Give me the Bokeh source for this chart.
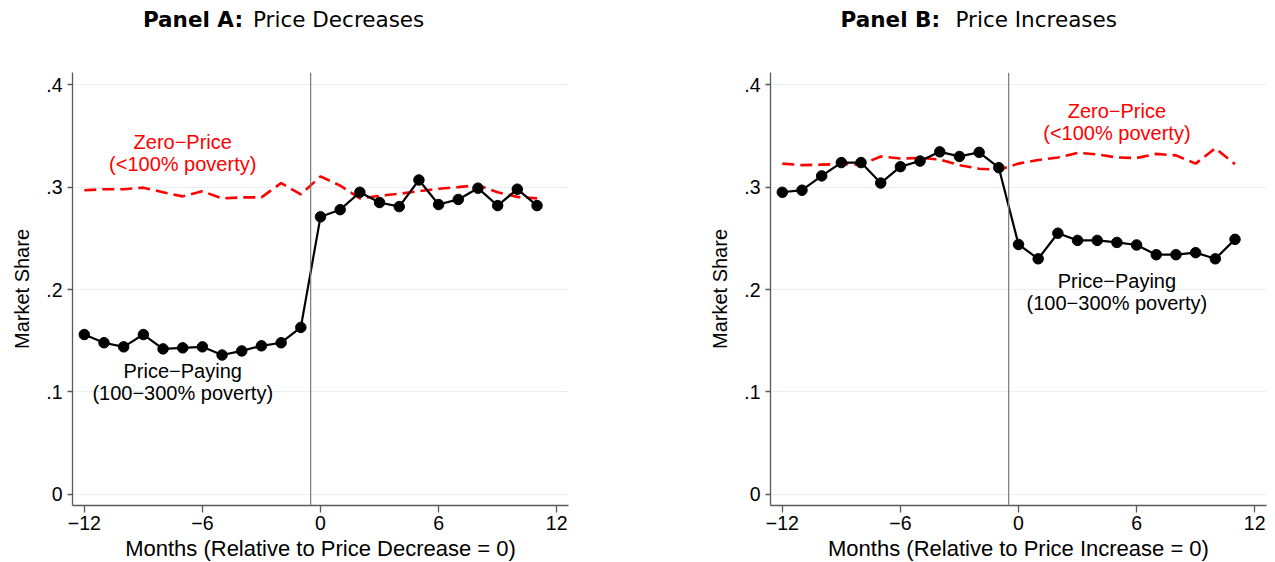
from bokeh.plotting import figure
from bokeh.layouts import row, column
from bokeh.models import Span, Label, FixedTicker, ColumnDataSource
from bokeh.core.properties import value
from bokeh.embed import file_html
from bokeh.resources import INLINE

# ---------------- data ----------------
months = list(range(-12, 12))

a_price_paying = [0.156, 0.148, 0.144, 0.156, 0.142, 0.143, 0.144, 0.136, 0.140, 0.145, 0.148, 0.163,
                  0.271, 0.278, 0.295, 0.285, 0.281, 0.307, 0.283, 0.288, 0.299, 0.282, 0.298, 0.282]
a_zero_price = [0.297, 0.298, 0.298, 0.2995, 0.295, 0.291, 0.296, 0.289, 0.290, 0.290, 0.304, 0.293,
                0.3105, 0.3015, 0.289, 0.2915, 0.2935, 0.296, 0.2985, 0.300, 0.302, 0.295, 0.2905, 0.289]

b_price_paying = [0.295, 0.297, 0.311, 0.324, 0.324, 0.304, 0.320, 0.3255, 0.3345, 0.330, 0.334, 0.319,
                  0.244, 0.230, 0.255, 0.248, 0.248, 0.246, 0.2435, 0.234, 0.234, 0.236, 0.230, 0.249]
b_zero_price = [0.323, 0.3215, 0.322, 0.3225, 0.322, 0.330, 0.328, 0.3285, 0.327, 0.3215, 0.318, 0.317,
                0.323, 0.3265, 0.329, 0.3335, 0.332, 0.329, 0.3285, 0.3325, 0.331, 0.323, 0.338, 0.3225]

x_ticks = [-12, -6, 0, 6, 12]
x_tick_labels = ["\u221212", "\u22126", "0", "6", "12"]
y_ticks = [0, 0.1, 0.2, 0.3, 0.4]
y_tick_labels = ["0", ".1", ".2", ".3", ".4"]

title_bold = ["Panel A:", "Panel B:"]
title_regular = ["Price Decreases", "Price Increases"]
x_labels = ["Months (Relative to Price Decrease = 0)", "Months (Relative to Price Increase = 0)"]
zero_label = ["Zero\u2212Price", "(<100% poverty)"]
paying_label = ["Price\u2212Paying", "(100\u2212300% poverty)"]

# ---------------- layout constants ----------------
FONT = "Liberation Sans"
X0, X1 = -12.6, 12.6
Y0, Y1 = -0.011, 0.412
FRAME_W, FRAME_H = 496, 433
HEADER_H = 50
TOP = 22
PX_PER_Y = FRAME_H / (Y1 - Y0)


def make_panel(idx, paying, zero, zero_pos, paying_pos, border_right):
    p = figure(frame_width=FRAME_W, frame_height=FRAME_H,
               x_range=(X0, X1), y_range=(Y0, Y1),
               min_border_left=72, min_border_right=border_right,
               min_border_top=TOP, min_border_bottom=56,
               output_backend="svg", toolbar_location=None,
               background_fill_color="white", border_fill_color="white")
    p.outline_line_color = None
    p.xgrid.grid_line_color = None
    p.ygrid.grid_line_color = "#e8f0f2"
    p.ygrid.grid_line_width = 1.2
    p.ygrid.ticker = FixedTicker(ticks=y_ticks)

    p.xaxis.ticker = FixedTicker(ticks=x_ticks)
    p.xaxis.major_label_overrides = dict(zip(x_ticks, x_tick_labels))
    p.yaxis.ticker = FixedTicker(ticks=y_ticks)
    p.yaxis.major_label_overrides = dict(zip(y_ticks, y_tick_labels))
    p.yaxis.major_label_orientation = "horizontal"

    for ax in (p.xaxis[0], p.yaxis[0]):
        ax.axis_line_color = "#5a5a5a"
        ax.axis_line_width = 1.3
        ax.major_tick_line_color = "#5a5a5a"
        ax.major_tick_line_width = 1.3
        ax.major_tick_in = 0
        ax.minor_tick_line_color = None
        ax.major_label_text_font = FONT
        ax.major_label_text_font_size = "19.5px"
        ax.major_label_text_color = "black"
        ax.axis_label_text_font = FONT
        ax.axis_label_text_font_style = "normal"
        ax.axis_label_text_color = "black"

    p.xaxis.major_tick_out = 7
    p.xaxis.major_label_standoff = 3
    p.xaxis.axis_label = x_labels[idx]
    p.xaxis.axis_label_text_font_size = "22px"
    p.xaxis.axis_label_standoff = 3

    p.yaxis.major_tick_out = 5
    p.yaxis.major_label_standoff = 5
    p.yaxis.axis_label = "Market Share"
    p.yaxis.axis_label_text_font_size = "20px"
    p.yaxis.axis_label_standoff = 10

    p.add_layout(Span(location=-0.5, dimension="height", line_color="#7a7a7a", line_width=1.2))

    src = ColumnDataSource(dict(x=months, paying=paying, zero=zero))
    p.line("x", "zero", source=src, line_color="#ff0000", line_width=2.6, line_dash="12 6")
    p.line("x", "paying", source=src, line_color="black", line_width=2.2)
    p.scatter("x", "paying", source=src, size=10.5, fill_color="black", line_color="black")

    for (txt, dy) in zip(zero_label, (0, -22)):
        p.add_layout(Label(x=zero_pos[0], y=zero_pos[1] + dy / PX_PER_Y, text=txt,
                           text_align="center", text_baseline="middle",
                           text_font=FONT, text_font_size="20px", text_color="#ff0000"))
    for (txt, dy) in zip(paying_label, (0, -22)):
        p.add_layout(Label(x=paying_pos[0], y=paying_pos[1] + dy / PX_PER_Y, text=txt,
                           text_align="center", text_baseline="middle",
                           text_font=FONT, text_font_size="20px", text_color="black"))
    return p


pA = make_panel(0, a_price_paying, a_zero_price, (-7.0, 0.3437), (-7.0, 0.120), 130)
pB = make_panel(1, b_price_paying, b_zero_price, (5.0, 0.374), (5.0, 0.2088), 8)

# ---------------- header with panel titles ----------------
header = figure(frame_width=1274, frame_height=HEADER_H, x_range=(0, 1274), y_range=(0, HEADER_H),
                min_border=0, output_backend="svg", toolbar_location=None)
header.axis.visible = False
header.grid.visible = False
header.outline_line_color = None
hsrc_bold = ColumnDataSource(dict(x=[242.5, 939.5], y=[HEADER_H - 18.5] * 2, t=title_bold))
hsrc_reg = ColumnDataSource(dict(x=[252.5, 955], y=[HEADER_H - 18.5] * 2, t=title_regular))
header.text("x", "y", text="t", source=hsrc_bold, text_align="right", text_baseline="middle",
            text_font=value("DejaVu Sans"), text_font_style="bold", text_font_size="21.5px",
            text_color="black")
header.text("x", "y", text="t", source=hsrc_reg, text_align="left", text_baseline="middle",
            text_font=value("DejaVu Sans"), text_font_size="21.5px", text_color="black")

layout = column(header, row(pA, pB))
open("out.html", "w").write(file_html(layout, INLINE))
